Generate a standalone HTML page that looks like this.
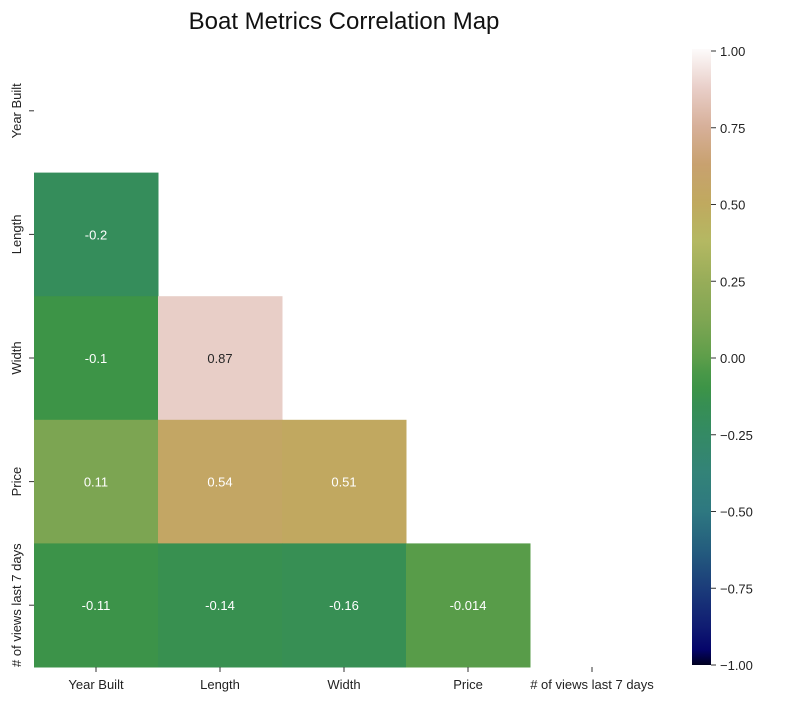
<!DOCTYPE html>
<html><head><meta charset="utf-8"><style>
body{margin:0;background:#fff;font-family:"Liberation Sans",sans-serif;}
svg text{font-family:"Liberation Sans",sans-serif;}
</style></head><body>
<svg id="chart" width="785" height="700">
<defs><linearGradient id="cbg" x1="0" y1="1" x2="0" y2="0"></linearGradient></defs>
<text x="344" y="29" font-size="24" text-anchor="middle" fill="#111">Boat Metrics Correlation Map</text>
<g id="cells"></g><g id="xt"></g><g id="yt"></g>
<rect x="692" y="49" width="19" height="616" fill="url(#cbg)"/>
<g id="cbt"></g>
</svg>
<script>
const labels=["Year Built","Length","Width","Price","# of views last 7 days"];
const corrRow1=[-0.2];
const corrRow2=[-0.1,0.87];
const corrRow3=[0.11,0.54,0.51];
const corrRow4=[-0.11,-0.14,-0.16,-0.014];
const corrLabels=[["-0.2"],["-0.1","0.87"],["0.11","0.54","0.51"],["-0.11","-0.14","-0.16","-0.014"]];
const cbTicks=[1,0.75,0.5,0.25,0,-0.25,-0.5,-0.75,-1];
const cbTickLabels=["1.00","0.75","0.50","0.25","0.00","\u22120.25","\u22120.50","\u22120.75","\u22121.00"];
const stops=[[-1,"#000020"],[-0.95,"#05056a"],[-0.875,"#101c72"],[-0.75,"#1b3c7a"],[-0.625,"#245d7e"],[-0.5,"#2e7880"],[-0.375,"#338378"],[-0.25,"#348a64"],[-0.2,"#358d5b"],[-0.15,"#378f52"],[-0.1,"#3d9447"],[-0.05,"#4a9848"],[0,"#5e9e4a"],[0.125,"#80a653"],[0.25,"#98ad59"],[0.375,"#b4b862"],[0.5,"#c0a95f"],[0.625,"#c8a16f"],[0.75,"#d7b09a"],[0.875,"#e9cfc9"],[1,"#fdfbfb"]];
function hx(c){return [1,3,5].map(i=>parseInt(c.substr(i,2),16));}
function cmap(v){for(let i=0;i<stops.length-1;i++){const a=stops[i],b=stops[i+1];if(v<=b[0]){const t=(v-a[0])/(b[0]-a[0]);const A=hx(a[1]),B=hx(b[1]);return "rgb("+A.map((x,k)=>Math.round(x+(B[k]-x)*t)).join(",")+")";}}return stops[stops.length-1][1];}
const NS="http://www.w3.org/2000/svg";
const X0=34,Y0=49,CW=124,CH=123.6;
const xS=i=>X0+i*CW, yS=i=>Y0+i*CH;
const cbY=v=>665-(v+1)/2*614;
function mk(t,attrs,p){const e=document.createElementNS(NS,t);for(const k in attrs)e.setAttribute(k,attrs[k]);p.appendChild(e);return e;}
const rows=[[],corrRow1,corrRow2,corrRow3,corrRow4];
const cells=document.getElementById('cells');
rows.forEach((r,ri)=>r.forEach((v,ci)=>{
 const rc=mk('rect',{x:xS(ci),y:yS(ri),width:CW+0.5,height:CH+0.5,fill:cmap(v)},cells);
 
 
 const tx=mk('text',{x:xS(ci)+CW/2,y:yS(ri)+CH/2+5,'font-size':13,'text-anchor':'middle',fill:v>0.7?'#262626':'#fff'},cells);
 tx.textContent=corrLabels[ri-1][ci];
 
 
}));
const xt=document.getElementById('xt'),yt=document.getElementById('yt');
labels.forEach((l,i)=>{
 const cx=xS(i)+CW/2;
 mk('line',{x1:cx,x2:cx,y1:667,y2:672,stroke:'#333'},xt);
 const t=mk('text',{x:cx,y:689,'font-size':13,'text-anchor':'middle',fill:'#222'},xt);t.textContent=l;
 
 
 const cy=yS(i)+CH/2;
 mk('line',{x1:29,x2:34,y1:cy,y2:cy,stroke:'#333'},yt);
 const u=mk('text',{x:0,y:0,'font-size':13,'text-anchor':'middle',fill:'#222',transform:'translate(21,'+cy+') rotate(-90)'},yt);u.textContent=l;
 
 
});
const g=document.getElementById('cbg');
stops.forEach(s=>mk('stop',{offset:((s[0]+1)/2*100)+'%','stop-color':s[1]},g));
const cbt=document.getElementById('cbt');
cbTicks.forEach((v,i)=>{const y=cbY(v);
 mk('line',{x1:711,x2:716,y1:y,y2:y,stroke:'#333'},cbt);
 const t=mk('text',{x:720,y:y+5,'font-size':13,fill:'#222'},cbt);t.textContent=cbTickLabels[i];
 
 
});
</script>
</body></html>
